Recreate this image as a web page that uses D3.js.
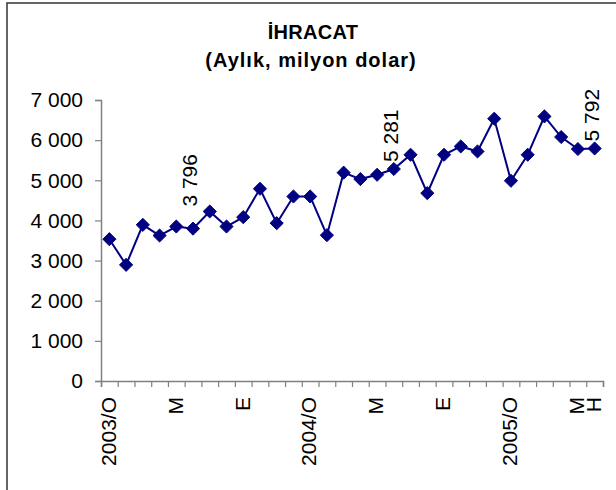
<!DOCTYPE html>
<html>
<head>
<meta charset="utf-8">
<script src="https://cdn.jsdelivr.net/npm/d3@7"></script>
<style>
  body { margin: 0; background: #fff; }
  svg { display: block; font-family: "Liberation Sans", Arial, sans-serif; }
</style>
</head>
<body>
<svg id="chart" width="616" height="490"></svg>
<script>
// ---- Data ----
const categories = [
  "2003-01","2003-02","2003-03","2003-04","2003-05","2003-06","2003-07","2003-08","2003-09","2003-10","2003-11","2003-12",
  "2004-01","2004-02","2004-03","2004-04","2004-05","2004-06","2004-07","2004-08","2004-09","2004-10","2004-11","2004-12",
  "2005-01","2005-02","2005-03","2005-04","2005-05","2005-06"
];
const tickLabels = [
  "2003/O","","","","M","","","","E","","","",
  "2004/O","","","","M","","","","E","","","",
  "2005/O","","","","M","H"
];
const exports = [
  3533, 2893, 3890, 3624, 3848, 3796, 4223, 3848, 4082, 4788, 3932, 4597,
  4597, 3633, 5190, 5030, 5137, 5281, 5636, 4680, 5636, 5843, 5718, 6534,
  4988, 5636, 6591, 6077, 5778, 5792
];
const labelledIndices = [5, 17, 29];
const yTicks = [0, 1000, 2000, 3000, 4000, 5000, 6000, 7000];
const titleLines = ["İHRACAT", "(Aylık, milyon dolar)"];

// ---- Layout ----
const svg = d3.select("#chart");
const plot = { left: 101, right: 603, top: 100, bottom: 381 };
const fmt = v => d3.format(",")(v).replace(/,/g, " ");

// frame
svg.append("rect").attr("x", 7).attr("y", 3).attr("width", 640).attr("height", 520)
  .attr("fill", "#fff").attr("stroke", "#333").attr("stroke-width", 1.5);

// title
svg.append("text").attr("x", 313).attr("y", 39).attr("text-anchor", "middle")
  .attr("font-weight", "bold").attr("font-size", 20).attr("letter-spacing", 0.3).text(titleLines[0]);
svg.append("text").attr("x", 311).attr("y", 67).attr("text-anchor", "middle")
  .attr("font-weight", "bold").attr("font-size", 20).attr("letter-spacing", 1).text(titleLines[1]);

const x = d3.scaleBand().domain(categories).range([plot.left, plot.right]).padding(0);
const xEdge = d3.scaleLinear().domain([0, categories.length]).range([plot.left, plot.right]);
const y = d3.scaleLinear().domain([0, 7000]).range([plot.bottom, plot.top]);

// y axis
const yAxis = svg.append("g").attr("transform", `translate(${plot.left},0)`)
  .call(d3.axisLeft(y).tickValues(yTicks).tickSize(6).tickPadding(12).tickFormat(fmt));
yAxis.select(".domain").attr("stroke", "#808080").attr("stroke-width", 1.5);
yAxis.selectAll(".tick line").attr("stroke", "#808080").attr("stroke-width", 1.2);
yAxis.selectAll(".tick text").attr("font-size", 21).attr("fill", "#000")
  .attr("font-family", "Liberation Sans, Arial, sans-serif");

// x axis: boundary ticks
const xTickAxis = svg.append("g").attr("transform", `translate(0,${plot.bottom})`)
  .call(d3.axisBottom(xEdge).tickValues(d3.range(0, categories.length + 1)).tickSize(6).tickFormat(""));
xTickAxis.select(".domain").attr("stroke", "#808080").attr("stroke-width", 1.5);
xTickAxis.selectAll(".tick line").attr("stroke", "#808080").attr("stroke-width", 1.2);

// x axis: labels centred on categories
const xLab = svg.append("g").attr("transform", `translate(0,${plot.bottom})`)
  .call(d3.axisBottom(x).tickSize(0).tickFormat((d, i) => tickLabels[i]));
xLab.select(".domain").remove();
xLab.selectAll(".tick text")
  .attr("font-size", 21).attr("fill", "#000")
  .attr("font-family", "Liberation Sans, Arial, sans-serif")
  .attr("text-anchor", "end")
  .attr("transform", "rotate(-90)")
  .attr("x", -16).attr("y", 0).attr("dy", "0.3em");

// line
const cx = (d, i) => x(categories[i]) + x.bandwidth() / 2;
svg.append("path").datum(exports)
  .attr("fill", "none").attr("stroke", "#000080").attr("stroke-width", 2)
  .attr("d", d3.line().x(cx).y(d => y(d)));

// markers
svg.append("g").selectAll("path").data(exports).join("path")
  .attr("transform", (d, i) => `translate(${cx(d, i)},${y(d)})`)
  .attr("d", d3.symbol().type(d3.symbolDiamond2).size(110))
  .attr("fill", "#000080").attr("stroke", "#000080").attr("stroke-width", 1);

// data labels
svg.append("g").selectAll("text").data(labelledIndices).join("text")
  .attr("transform", i => `translate(${cx(null, i)},${y(exports[i]) - (i === 5 ? 22 : 7)}) rotate(-90)`)
  .attr("text-anchor", "start").attr("dy", "0.2em")
  .attr("font-size", 21).attr("fill", "#000")
  .text(i => fmt(exports[i]));
</script>
</body>
</html>
